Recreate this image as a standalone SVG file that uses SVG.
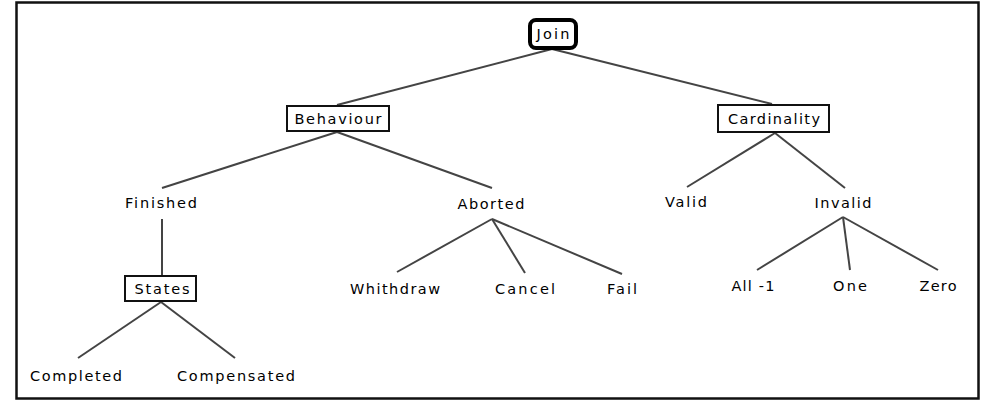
<svg xmlns="http://www.w3.org/2000/svg" width="989" height="401" viewBox="0 0 989 401">
<style>
.t{font-family:"DejaVu Sans","Liberation Sans",sans-serif;font-size:14.5px;fill:#000;text-anchor:middle}
.box{fill:#fff;stroke:#111;stroke-width:2}
.edge{stroke:#444;stroke-width:2;fill:none}
</style>
<rect x="0" y="0" width="989" height="401" fill="#fff"/>
<rect x="16.5" y="2.5" width="962" height="396" fill="none" stroke="#111" stroke-width="2.5"/>
<g id="connectors">
<line class="edge" x1="552" y1="49" x2="337" y2="105"/>
<line class="edge" x1="552" y1="49" x2="772" y2="104"/>
<line class="edge" x1="337" y1="132" x2="162" y2="188"/>
<line class="edge" x1="337" y1="132" x2="492" y2="188"/>
<line class="edge" x1="775" y1="133" x2="687" y2="187"/>
<line class="edge" x1="775" y1="133" x2="845" y2="188"/>
<line class="edge" x1="162" y1="219" x2="162" y2="275"/>
<line class="edge" x1="492" y1="219" x2="397" y2="272"/>
<line class="edge" x1="492" y1="219" x2="525" y2="273"/>
<line class="edge" x1="492" y1="219" x2="622" y2="274"/>
<line class="edge" x1="843" y1="217" x2="757" y2="270"/>
<line class="edge" x1="843" y1="217" x2="850" y2="270"/>
<line class="edge" x1="843" y1="217" x2="938" y2="270"/>
<line class="edge" x1="161" y1="302" x2="78" y2="358"/>
<line class="edge" x1="161" y1="302" x2="235" y2="358"/>
</g>
<g id="join"><rect x="530" y="20" width="46" height="28" rx="6" fill="#fff" stroke="#000" stroke-width="4"/><text class="t" x="553" y="39" textLength="33" lengthAdjust="spacing">Join</text></g>
<g id="behaviour"><rect class="box" x="287" y="106" width="102" height="25"/><text class="t" x="338" y="124" textLength="87" lengthAdjust="spacing">Behaviour</text></g>
<g id="cardinality"><rect class="box" x="718" y="105" width="111" height="27"/><text class="t" x="774" y="124" textLength="92" lengthAdjust="spacing">Cardinality</text></g>
<g id="finished"><text class="t" x="161" y="208" textLength="72" lengthAdjust="spacing">Finished</text></g>
<g id="aborted"><text class="t" x="491" y="209" textLength="67" lengthAdjust="spacing">Aborted</text></g>
<g id="valid"><text class="t" x="686" y="207" textLength="42" lengthAdjust="spacing">Valid</text></g>
<g id="invalid"><text class="t" x="843" y="208" textLength="57" lengthAdjust="spacing">Invalid</text></g>
<g id="states"><rect class="box" x="125" y="276" width="71" height="25"/><text class="t" x="162" y="294" textLength="55" lengthAdjust="spacing">States</text></g>
<g id="whithdraw"><text class="t" x="395" y="294" textLength="90" lengthAdjust="spacing">Whithdraw</text></g>
<g id="cancel"><text class="t" x="525" y="294" textLength="60" lengthAdjust="spacing">Cancel</text></g>
<g id="fail"><text class="t" x="622" y="294" textLength="30" lengthAdjust="spacing">Fail</text></g>
<g id="all1"><text class="t" x="753" y="291" textLength="43" lengthAdjust="spacing">All -1</text></g>
<g id="one"><text class="t" x="850" y="291" textLength="34" lengthAdjust="spacing">One</text></g>
<g id="zero"><text class="t" x="938" y="291" textLength="37" lengthAdjust="spacing">Zero</text></g>
<g id="completed"><text class="t" x="76" y="381" textLength="92" lengthAdjust="spacing">Completed</text></g>
<g id="compensated"><text class="t" x="236" y="381" textLength="118" lengthAdjust="spacing">Compensated</text></g>
</svg>
